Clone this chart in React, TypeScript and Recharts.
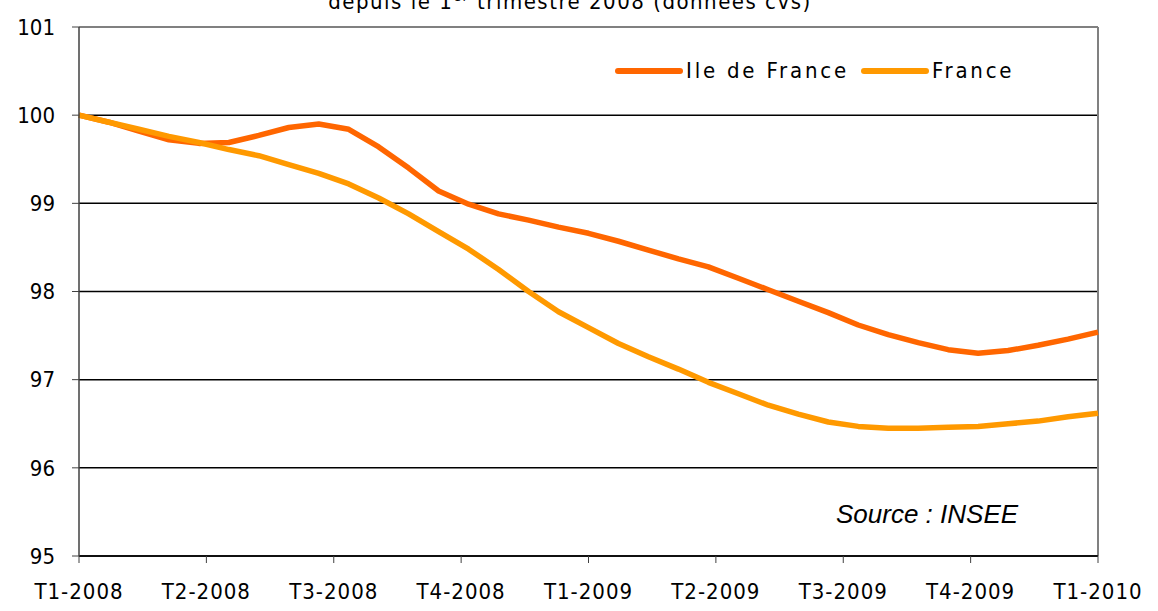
import { LineChart, Line, XAxis, YAxis, CartesianGrid, ReferenceLine } from 'recharts'

// quarter labels on the x axis and where they fall on the point index scale
const quarterLabels = [
  'T1-2008', 'T2-2008', 'T3-2008', 'T4-2008',
  'T1-2009', 'T2-2009', 'T3-2009', 'T4-2009', 'T1-2010',
]
const quarterTicks = [0, 4.25, 8.5, 12.75, 17, 21.25, 25.5, 29.75, 34]
const yTicks = [95, 96, 97, 98, 99, 100, 101]

// index base 100 at T1-2008
const ileDeFrance = [
  100.0, 99.92, 99.82, 99.72, 99.68, 99.69, 99.77, 99.86, 99.9, 99.84,
  99.64, 99.4, 99.14, 98.99, 98.88, 98.81, 98.73, 98.66, 98.57, 98.47,
  98.37, 98.28, 98.15, 98.02, 97.89, 97.76, 97.62, 97.51, 97.42, 97.34,
  97.3, 97.33, 97.39, 97.46, 97.54,
]
const france = [
  100.0, 99.92, 99.84, 99.76, 99.69, 99.61, 99.54, 99.44, 99.34, 99.22,
  99.06, 98.88, 98.68, 98.48, 98.25, 98.0, 97.77, 97.59, 97.41, 97.26,
  97.12, 96.97, 96.84, 96.71, 96.61, 96.52, 96.47, 96.45, 96.45, 96.46,
  96.47, 96.5, 96.53, 96.58, 96.62,
]

const seriesNames = ['Ile de France', 'France']
const seriesColors = ['#FF6600', '#FF9900']

const AXIS_FONT = '"DejaVu Sans Condensed", "DejaVu Sans", sans-serif'

const data = ileDeFrance.map((v, i) => ({ i, idf: v, fr: france[i] }))

const ChartLegend = () => (
  <div
    style={{
      position: 'absolute',
      left: 615,
      top: 58,
      display: 'flex',
      alignItems: 'center',
      fontFamily: AXIS_FONT,
      fontStretch: 'condensed',
      fontSize: 22,
      letterSpacing: 2.8,
      color: '#000',
      whiteSpace: 'nowrap',
    }}
  >
    {seriesNames.map((name, idx) => (
      <div key={name} style={{ display: 'flex', alignItems: 'center', marginRight: 12 }}>
        <div
          style={{
            width: 68,
            height: 6,
            borderRadius: 3,
            backgroundColor: seriesColors[idx],
            marginRight: 3,
          }}
        />
        <span>{name}</span>
      </div>
    ))}
  </div>
)

export default function App() {
  return (
    <div
      style={{
        position: 'absolute',
        left: 0,
        top: 0,
        width: 1158,
        height: 611,
        overflow: 'hidden',
        background: '#fff',
      }}
    >
      {/* title, mostly cut off at the top of the picture as in the source */}
      <div
        style={{
          position: 'absolute',
          left: 0,
          width: 1140,
          top: -15,
          textAlign: 'center',
          fontFamily: AXIS_FONT,
          fontStretch: 'condensed',
          fontSize: 22,
          lineHeight: '22px',
          letterSpacing: 1.5,
          color: '#000',
        }}
      >
        depuis le 1<sup style={{ fontSize: 14 }}>er</sup> trimestre 2008 (données cvs)
      </div>

      <LineChart
        width={1158}
        height={611}
        data={data}
        margin={{ top: 27, right: 60, bottom: 0, left: 0 }}
      >
        <CartesianGrid vertical={false} stroke="#000" strokeWidth={1.5} />
        <XAxis
          dataKey="i"
          type="number"
          domain={[0, 34]}
          ticks={quarterTicks}
          interval={0}
          height={55}
          tickSize={7}
          tickMargin={20}
          axisLine={{ stroke: '#000', strokeWidth: 1.5 }}
          tickLine={{ stroke: '#404040' }}
          tick={{ fill: '#000', fontSize: 22, fontFamily: AXIS_FONT, letterSpacing: 1 }}
          tickFormatter={(v: number) => quarterLabels[quarterTicks.indexOf(v)]}
        />
        <YAxis
          domain={[95, 101]}
          ticks={yTicks}
          interval={0}
          width={79}
          tickSize={7}
          tickMargin={17}
          axisLine={{ stroke: '#404040', strokeWidth: 1.5 }}
          tickLine={{ stroke: '#404040' }}
          tick={{ fill: '#000', fontSize: 22, fontFamily: AXIS_FONT }}
        />
        <ReferenceLine y={101} stroke="#808080" strokeWidth={2} />
        <ReferenceLine x={34} stroke="#808080" strokeWidth={2} />
        <Line
          type="linear"
          dataKey="idf"
          name={seriesNames[0]}
          stroke={seriesColors[0]}
          strokeWidth={5.5}
          strokeLinejoin="round"
          dot={false}
          activeDot={false}
          isAnimationActive={false}
        />
        <Line
          type="linear"
          dataKey="fr"
          name={seriesNames[1]}
          stroke={seriesColors[1]}
          strokeWidth={5.5}
          strokeLinejoin="round"
          dot={false}
          activeDot={false}
          isAnimationActive={false}
        />
      </LineChart>

      <ChartLegend />

      <div
        style={{
          position: 'absolute',
          left: 836,
          top: 501,
          fontFamily: '"Liberation Sans", Arial, sans-serif',
          fontStyle: 'italic',
          fontSize: 26,
          lineHeight: '26px',
          color: '#000',
        }}
      >
        Source : INSEE
      </div>
    </div>
  )
}
